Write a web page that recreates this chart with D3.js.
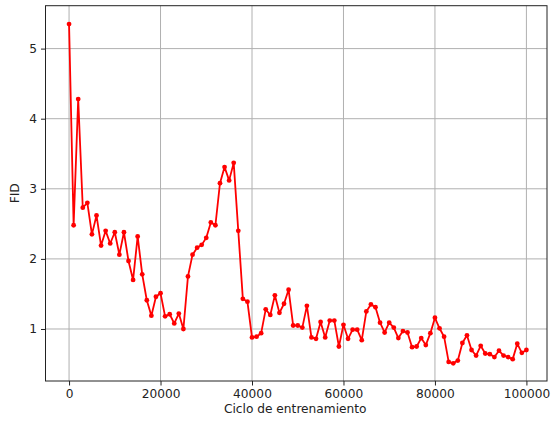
<!DOCTYPE html>
<html>
<head>
<meta charset="utf-8">
<script src="https://cdn.jsdelivr.net/npm/d3@7/dist/d3.min.js"></script>
<style>
  html, body { margin: 0; padding: 0; background: #fff; }
  svg { display: block; }
  text { font-family: "DejaVu Sans", sans-serif; fill: #222; }
</style>
</head>
<body>
<svg id="chart" width="552" height="426"></svg>
<script>
// Training steps (every 1000)
const steps = d3.range(0, 100001, 1000);
// FID values
const fid = [
  5.35, 2.48, 4.28, 2.73, 2.80, 2.35, 2.62, 2.19, 2.40, 2.22,
  2.38, 2.06, 2.38, 1.97, 1.70, 2.32, 1.78, 1.41, 1.19, 1.46,
  1.51, 1.18, 1.21, 1.08, 1.22, 1.00, 1.75, 2.06, 2.16, 2.20,
  2.30, 2.52, 2.48, 3.08, 3.31, 3.12, 3.37, 2.40, 1.43, 1.39,
  0.88, 0.89, 0.94, 1.28, 1.20, 1.48, 1.23, 1.36, 1.56, 1.05,
  1.05, 1.02, 1.33, 0.88, 0.86, 1.10, 0.88, 1.12, 1.12, 0.75,
  1.06, 0.86, 0.99, 0.99, 0.84, 1.25, 1.35, 1.31, 1.09, 0.95,
  1.09, 1.02, 0.87, 0.97, 0.95, 0.74, 0.75, 0.87, 0.77, 0.94,
  1.16, 1.01, 0.89, 0.53, 0.51, 0.55, 0.80, 0.91, 0.70, 0.62,
  0.76, 0.65, 0.64, 0.60, 0.69, 0.62, 0.60, 0.57, 0.79, 0.66,
  0.70
];
const xTicks = [0, 20000, 40000, 60000, 80000, 100000];
const yTicks = [1, 2, 3, 4, 5];
const xLabel = "Ciclo de entrenamiento";
const yLabel = "FID";

const data = steps.map((s, i) => ({ x: s, y: fid[i] }));

const L = 45.5, R = 547, T = 5.7, B = 381;
const svg = d3.select("#chart");

const x = d3.scaleLinear().domain([-5150, 104500]).range([L, R]);
const y = d3.scaleLinear().domain([0.258, 5.612]).range([B, T]);

// grid
const g = svg.append("g");
g.selectAll("line.vg").data(xTicks).enter().append("line")
  .attr("x1", d => x(d)).attr("x2", d => x(d))
  .attr("y1", T).attr("y2", B)
  .attr("stroke", "#b0b0b0").attr("stroke-width", 1);
g.selectAll("line.hg").data(yTicks).enter().append("line")
  .attr("x1", L).attr("x2", R)
  .attr("y1", d => y(d)).attr("y2", d => y(d))
  .attr("stroke", "#b0b0b0").attr("stroke-width", 1);

// axes
const fs = "12.2px";
const xAxis = d3.axisBottom(x).tickValues(xTicks).tickFormat(d3.format("d")).tickSizeOuter(0).tickSize(4.5).tickPadding(4);
const yAxis = d3.axisLeft(y).tickValues(yTicks).tickFormat(d3.format("d")).tickSizeOuter(0).tickSize(4.5).tickPadding(4);

const gx = svg.append("g").attr("transform", `translate(0,${B})`).call(xAxis);
const gy = svg.append("g").attr("transform", `translate(${L},0)`).call(yAxis);
[gx, gy].forEach(a => {
  a.select(".domain").remove();
  a.selectAll(".tick line").attr("stroke", "#222").attr("stroke-width", 1);
  a.selectAll(".tick text").attr("font-size", fs).attr("font-family", "DejaVu Sans").attr("fill", "#222");
});

// line + markers
const line = d3.line().x(d => x(d.x)).y(d => y(d.y));
svg.append("path").datum(data)
  .attr("d", line)
  .attr("fill", "none")
  .attr("stroke", "#ff0000")
  .attr("stroke-width", 1.8)
  .attr("stroke-linejoin", "round");
svg.selectAll("circle.pt").data(data).enter().append("circle")
  .attr("cx", d => x(d.x)).attr("cy", d => y(d.y)).attr("r", 2.4)
  .attr("fill", "#ff0000");

// frame
svg.append("rect").attr("x", L).attr("y", T).attr("width", R - L).attr("height", B - T)
  .attr("fill", "none").attr("stroke", "#222").attr("stroke-width", 1);

// labels
svg.append("text").attr("x", (L + R) / 2 - 1).attr("y", 413)
  .attr("text-anchor", "middle").attr("font-size", fs).text(xLabel);
svg.append("text").attr("transform", `translate(19,${(T + B) / 2}) rotate(-90)`)
  .attr("text-anchor", "middle").attr("font-size", fs).text(yLabel);
</script>
</body>
</html>
